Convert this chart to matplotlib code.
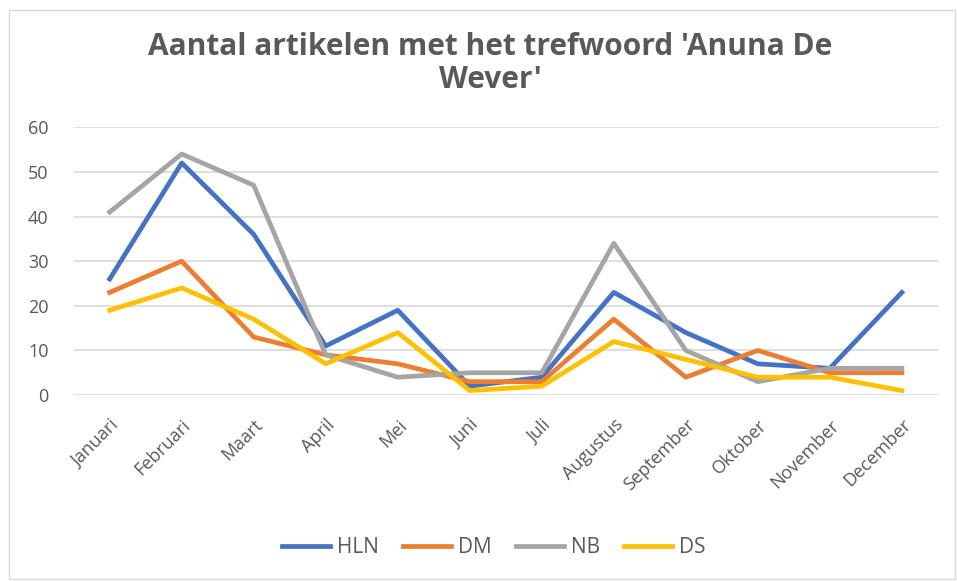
import matplotlib.pyplot as plt
from matplotlib.patches import Rectangle

maanden = ['Januari', 'Februari', 'Maart', 'April', 'Mei', 'Juni', 'Juli',
           'Augustus', 'September', 'Oktober', 'November', 'December']
hln = [26, 52, 36, 11, 19, 2, 4, 23, 14, 7, 6, 23]
dm = [23, 30, 13, 9, 7, 3, 3, 17, 4, 10, 5, 5]
nb = [41, 54, 47, 9, 4, 5, 5, 34, 10, 3, 6, 6]
ds = [19, 24, 17, 7, 14, 1, 2, 12, 8, 4, 4, 1]

plt.rcParams['font.family'] = ['Open Sans', 'DejaVu Sans']
grijs = '#595959'

fig = plt.figure(figsize=(9.57, 5.81), dpi=100)
ax = fig.add_axes([0.077, 0.320, 0.903, 0.461])

x = range(len(maanden))
ax.plot(x, hln, color='#4472C4', lw=3.4, label='HLN')
ax.plot(x, dm, color='#ED7D31', lw=3.4, label='DM')
ax.plot(x, nb, color='#A5A5A5', lw=3.4, label='NB')
ax.plot(x, ds, color='#FFC000', lw=3.4, label='DS')

ax.set_xlim(-0.5, len(maanden) - 0.5)
ax.set_ylim(0, 60)
ax.set_yticks(range(0, 61, 10))
ax.set_xticks(list(x))
ax.set_xticklabels(maanden, rotation=45, ha='right', rotation_mode='anchor')
ax.tick_params(axis='both', length=0, colors=grijs, labelsize=13)
ax.tick_params(axis='x', pad=15)
ax.tick_params(axis='y', pad=18)
ax.grid(axis='y', color='#D9D9D9', lw=1.2)
ax.set_axisbelow(True)
for s in ax.spines.values():
    s.set_visible(False)

fig.text(0.512, 0.891, "Aantal artikelen met het trefwoord 'Anuna De\nWever'",
         ha='center', va='center', fontsize=21.5, fontweight='bold',
         color=grijs, linespacing=1.12)

fig.legend(loc='center', bbox_to_anchor=(0.516, 0.057), ncol=4, frameon=False,
           fontsize=15, labelcolor=grijs, handlelength=2.3, columnspacing=1.15,
           handletextpad=0.35)

fig.patches.append(Rectangle((0.009, 0.004), 0.989, 0.979, transform=fig.transFigure,
                             fill=False, edgecolor='#D9D9D9', lw=1))

fig.savefig('out.png', dpi=100)
